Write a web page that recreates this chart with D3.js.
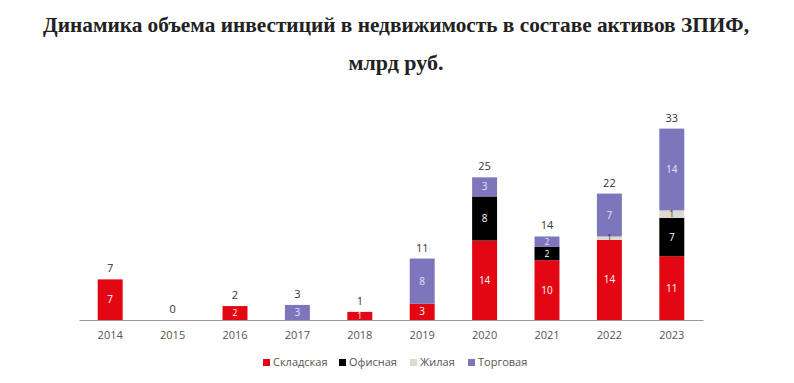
<!DOCTYPE html>
<html><head><meta charset="utf-8">
<script src="https://cdn.jsdelivr.net/npm/d3@7"></script>
<style>body{margin:0;background:#fff}svg{display:block}</style>
</head><body><svg id="c" width="794" height="383"></svg>
<script>
const years = ["2014","2015","2016","2017","2018","2019","2020","2021","2022","2023"];
const seriesNames = ["Складская","Офисная","Жилая","Торговая"];
const skladskaya = [7, 0, 2.4, 0, 1.4, 2.8, 13.7, 10.3, 13.8, 11.0];
const ofisnaya   = [0, 0, 0, 0, 0, 0, 7.6, 2.3, 0, 6.6];
const zhilaya    = [0, 0, 0, 0, 0, 0, 0, 0, 0.6, 1.3];
const torgovaya  = [0, 0, 0, 2.6, 0, 7.8, 3.3, 1.8, 7.4, 14.1];
const colors = ["#e30613","#000000","#ddd9cf","#7d76bd"];
const labelColors = ["#ffffff","#ffffff","#333333","#e6e3f5"];
const titleLines = ["Динамика объема инвестиций в недвижимость в составе активов ЗПИФ,","млрд руб."];

const svg = d3.select("#c");
const seriesVals = [skladskaya, ofisnaya, zhilaya, torgovaya];
const table = years.map((y,i)=>{const o={year:y}; seriesNames.forEach((s,k)=>o[s]=seriesVals[k][i]); return o;});
const stack = d3.stack().keys(seriesNames)(table);

const x = d3.scaleBand().domain(years).range([79,703]).paddingInner(0.6).paddingOuter(0.3);
const y = d3.scaleLinear().domain([0,33]).range([320,128.6]);

// title
svg.selectAll("text.title").data(titleLines).join("text")
  .attr("class","title").attr("x",396).attr("y",(d,i)=>32+i*38)
  .attr("text-anchor","middle")
  .attr("textLength",(d,i)=>i===0?706:95).attr("lengthAdjust","spacingAndGlyphs")
  .style("font-family","'Liberation Serif','Times New Roman',serif")
  .style("font-weight","bold").style("font-size","22px").style("fill","#222")
  .text(d=>d);

// bars
const g = svg.append("g");
stack.forEach((layer,k)=>{
  g.selectAll(null).data(layer.filter(d=>d[1]-d[0]>0)).join("rect")
    .attr("x",d=>x(d.data.year)).attr("width",x.bandwidth())
    .attr("y",d=>y(d[1])).attr("height",d=>y(d[0])-y(d[1]))
    .attr("fill",colors[k]);
});
// segment labels
stack.forEach((layer,k)=>{
  g.selectAll(null).data(layer.filter(d=>d[1]-d[0]>0)).join("text")
    .attr("x",d=>x(d.data.year)+x.bandwidth()/2)
    .attr("y",d=>{const h=y(d[0])-y(d[1]); return (y(d[0])+y(d[1]))/2+(h<14?3:3.5);})
    .attr("text-anchor","middle")
    .style("font-family","'Open Sans',sans-serif")
    .style("font-size",d=>(y(d[0])-y(d[1]))<14?"8.5px":"10px")
    .style("fill",labelColors[k])
    .text(d=>Math.round(d[1]-d[0]));
});
// totals
const totals = years.map((yr,i)=>({year:yr,v:seriesVals.reduce((a,s)=>a+s[i],0)}));
g.selectAll(null).data(totals).join("text")
  .attr("x",d=>x(d.year)+x.bandwidth()/2).attr("y",d=>y(d.v)-7)
  .attr("text-anchor","middle")
  .style("font-family","'Open Sans',sans-serif").style("font-size","11px").style("fill","#333")
  .text(d=>Math.round(d.v));

// axis
const ax = svg.append("g").attr("transform","translate(0,320)").call(d3.axisBottom(x).tickSize(0).tickPadding(11));
ax.select(".domain").attr("stroke","#999");
ax.selectAll("text").style("font-family","'Open Sans',sans-serif").style("font-size","11px").style("fill","#555");

// legend
const legX = [263,339,410,468];
const leg = svg.append("g");
seriesNames.forEach((s,k)=>{
  leg.append("rect").attr("x",legX[k]).attr("y",359).attr("width",7).attr("height",7).attr("fill",colors[k]);
  leg.append("text").attr("x",legX[k]+10).attr("y",366)
    .style("font-family","'Open Sans',sans-serif").style("font-size","11px").style("fill","#555").text(s);
});
</script></body></html>
